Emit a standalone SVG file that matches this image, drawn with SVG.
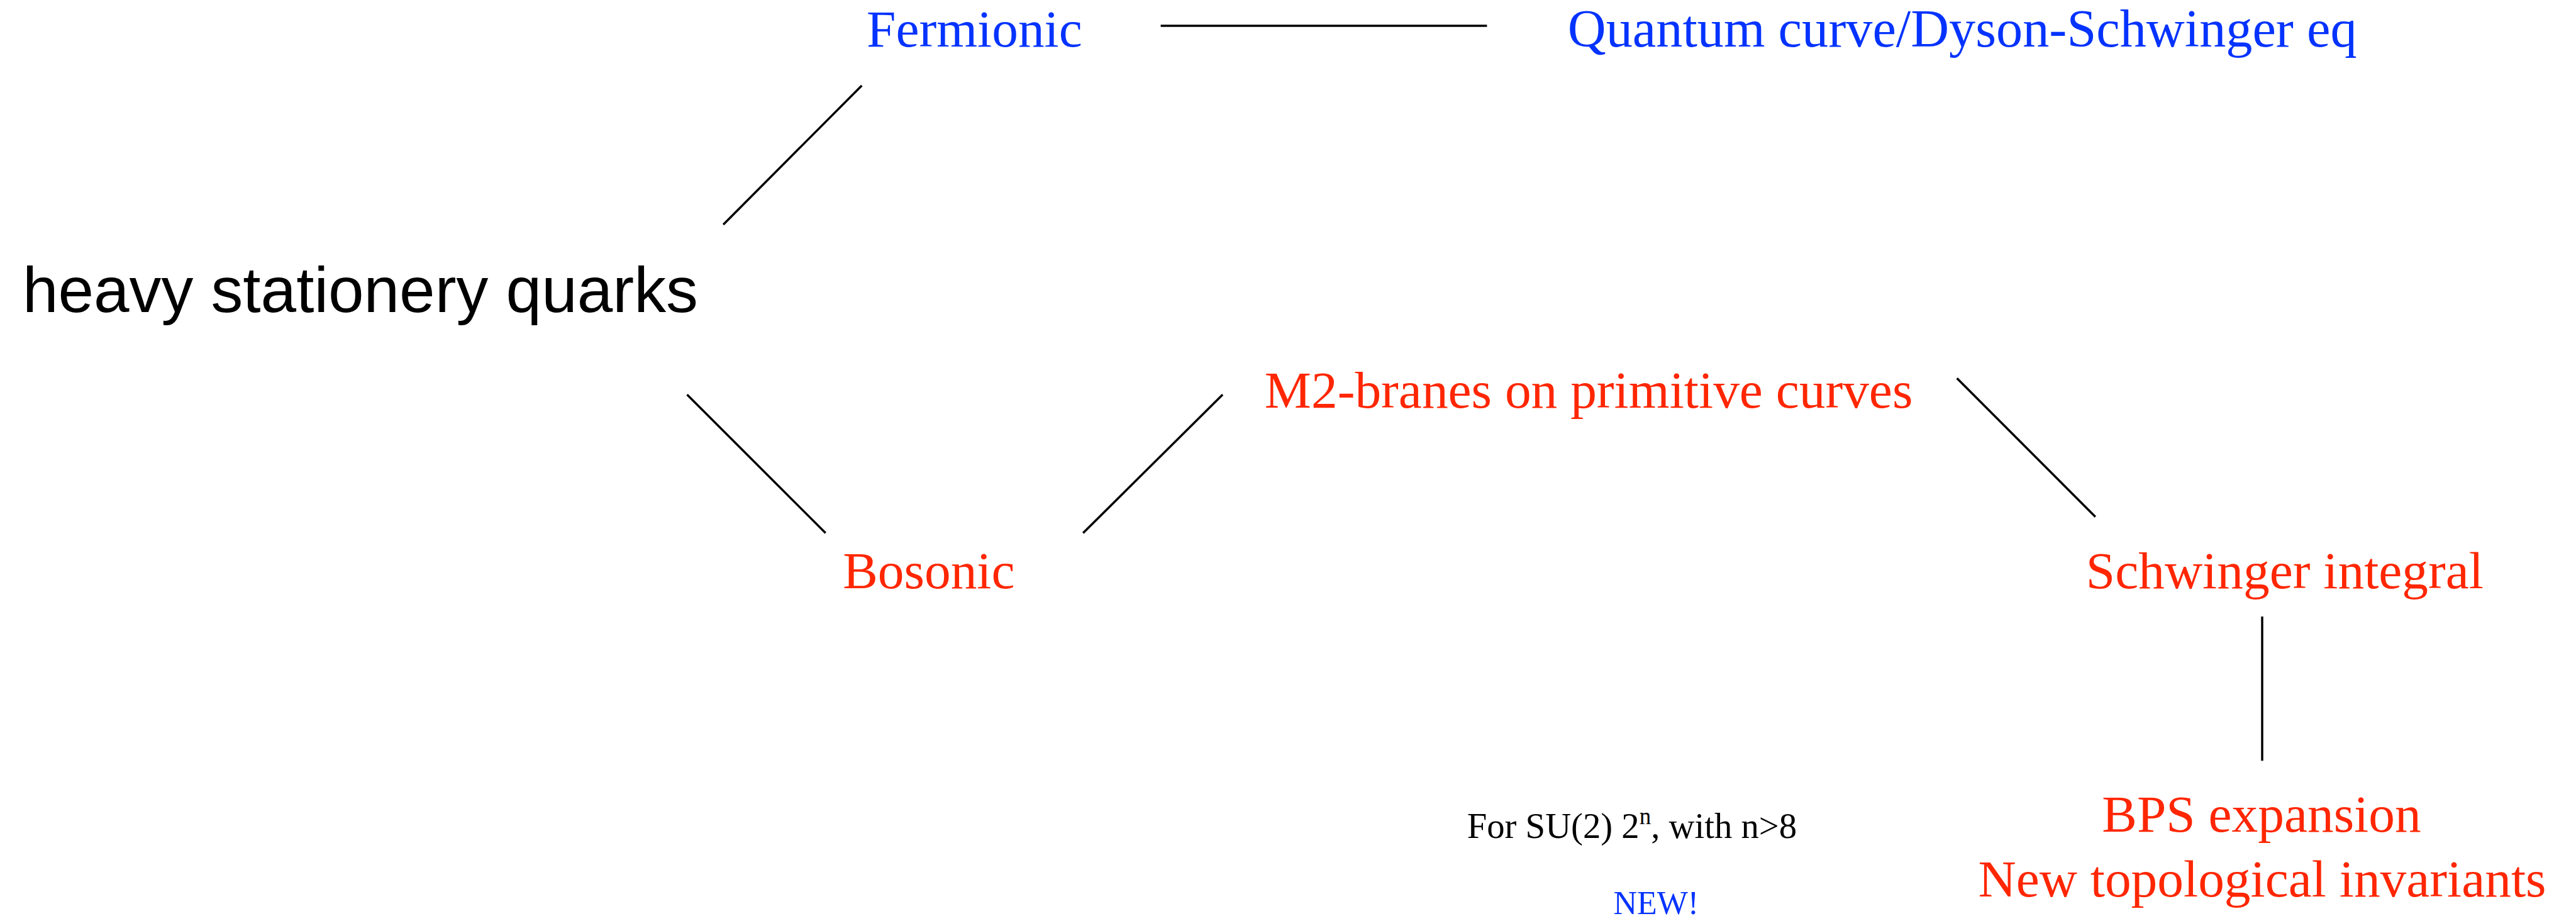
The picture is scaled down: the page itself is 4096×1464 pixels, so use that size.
<svg xmlns="http://www.w3.org/2000/svg" width="4096" height="1464" viewBox="0 0 4096 1464">
<style>
.serif{font-family:"Liberation Serif","Times New Roman",serif}
.sans{font-family:"Liberation Sans",Arial,sans-serif}
.blue{fill:#0433FF}
.red{fill:#FF2600}
.big{font-size:83.4px}
.edge{stroke:#000;stroke-width:3.5;fill:none;stroke-linecap:butt}
</style>
<rect width="4096" height="1464" fill="#fff"/>
<g id="connectors">
<line class="edge" x1="1845.6" y1="40.9" x2="2364.4" y2="40.9"/>
<line class="edge" x1="1150.1" y1="357" x2="1370.3" y2="135.9"/>
<line class="edge" x1="1092.5" y1="627.2" x2="1312.7" y2="847.3"/>
<line class="edge" x1="1722.2" y1="847.3" x2="1944.1" y2="627.2"/>
<line class="edge" x1="3111.7" y1="601.3" x2="3331.8" y2="821.5"/>
<line class="edge" x1="3597" y1="980" x2="3597" y2="1209.3"/>
</g>
<g id="heavy">
<text class="sans" x="35.9" y="496.2" font-size="101.7" fill="#000">heavy stationery quarks</text>
</g>
<g id="fermionic">
<text class="serif blue big" x="1378" y="74.2">Fermionic</text>
</g>
<g id="quantum">
<text class="serif blue" x="2492.8" y="74.2" font-size="84.3">Quantum curve/Dyson-Schwinger eq</text>
</g>
<g id="m2">
<text class="serif red big" x="2010.8" y="648">M2-branes on primitive curves</text>
</g>
<g id="bosonic">
<text class="serif red big" x="1340.2" y="934.9">Bosonic</text>
</g>
<g id="schwinger">
<text class="serif red big" x="3316.8" y="934.9">Schwinger integral</text>
</g>
<g id="bps">
<text class="serif red big" x="3596" y="1321.9" text-anchor="middle">BPS expansion</text>
<text class="serif red big" x="3597" y="1424.5" text-anchor="middle">New topological invariants</text>
</g>
<g id="note">
<text class="serif" x="2332.7" y="1331.9" font-size="56.7" fill="#000">For SU(2) 2<tspan font-size="37" dy="-22">n</tspan><tspan dy="22">, with n&gt;8</tspan></text>
</g>
<g id="new">
<text class="serif blue" x="2565.4" y="1452.8" font-size="52">NEW!</text>
</g>
</svg>
